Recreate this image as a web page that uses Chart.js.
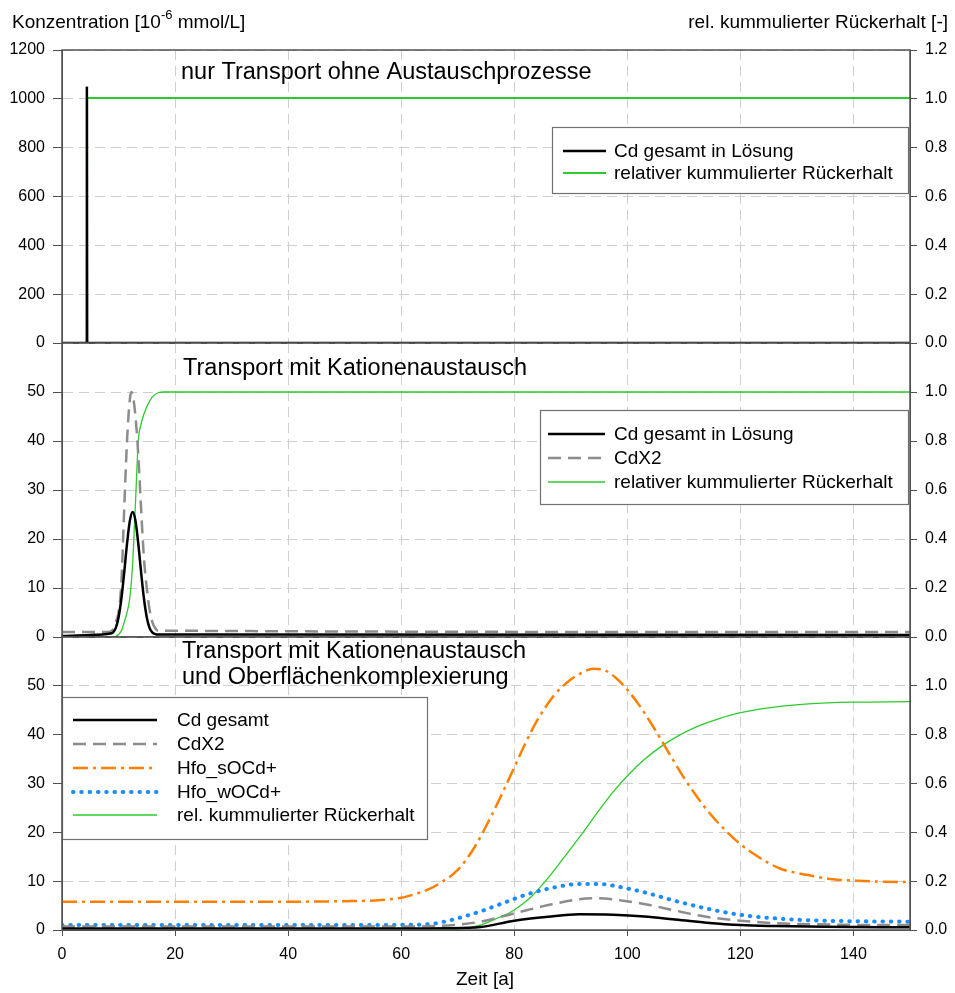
<!DOCTYPE html>
<html>
<head>
<meta charset="utf-8">
<script src="https://cdn.jsdelivr.net/npm/chart.js@4/dist/chart.umd.min.js"></script>
<style>
  body { margin: 0; background: #fff; }
  #wrap { position: relative; width: 955px; height: 993px; }
  #wrap canvas { position: absolute; left: 0; top: 0; }
</style>
</head>
<body>
<div id="wrap">
  <canvas id="c1" width="955" height="993"></canvas>
  <canvas id="c2" width="955" height="993"></canvas>
  <canvas id="c3" width="955" height="993"></canvas>
</div>
<script>
// --- Daten Panel 1: nur Transport ---
const zeit1Cd = [0, 4.35, 4.4, 4.45, 150];
const cd1 = [0, 0, 1050, 0, 0];
const zeit1Ret = [0, 4.4, 4.45, 150];
const ret1 = [0, 0, 1.003, 1.003];

// --- Daten Panel 2: Kationenaustausch ---
const zeit2Cd = [0, 5, 8, 8.5, 9, 9.5, 10, 10.5, 11, 11.5, 12, 12.5, 13, 13.5, 14, 14.5, 15, 15.5, 16, 16.5, 17, 20, 150];
const cd2 = [0.2, 0.4, 0.6, 0.7, 0.9, 1.8, 4, 7.8, 13.1, 19, 23.7, 25.5, 23.7, 19, 13.1, 7.8, 4, 1.8, 0.9, 0.6, 0.5, 0.5, 0.4];
const zeit2X2 = [0, 8, 9, 9.5, 10, 10.5, 11, 11.5, 12, 12.3, 13, 13.5, 14, 14.5, 15, 15.5, 16, 16.5, 17, 150];
const cdx2_2 = [1.0, 1.0, 1.5, 3, 5, 11, 26, 40, 48.5, 50, 45, 37, 26, 16, 10, 5.5, 3, 1.8, 1.3, 1.0];
const zeit2Ret = [0, 9, 10, 10.5, 11, 11.5, 12, 12.5, 13, 13.5, 14, 14.5, 15, 16, 17, 18, 150];
const ret2 = [0, 0, 0.01, 0.025, 0.06, 0.1, 0.16, 0.3, 0.55, 0.8, 0.87, 0.91, 0.94, 0.98, 0.997, 1.0, 1.0];

// --- Daten Panel 3: Kationenaustausch und Oberflaechenkomplexierung ---
const zeit3Cd = [0, 60, 68, 74, 80, 86, 91.5, 97.5, 103, 108, 114, 120, 126, 135, 150];
const cd3 = [0.3, 0.3, 0.35, 0.6, 1.9, 2.7, 3.2, 3.1, 2.75, 2.2, 1.5, 1.0, 0.8, 0.65, 0.55];
const zeit3X2 = [0, 60, 66, 70, 74, 80, 86, 91.5, 94.5, 100.5, 104, 108, 114, 120, 126, 132, 140, 150];
const cdx2_3 = [0.7, 0.7, 0.8, 1.1, 1.7, 3.4, 5.1, 6.3, 6.5, 5.8, 5.1, 4.1, 2.7, 1.9, 1.4, 1.2, 1.05, 1.0];
const zeit3S = [0, 40, 50, 56, 60, 62, 65, 67, 70, 73, 76, 78, 80, 82, 84, 87, 90, 92, 94, 96, 98, 100, 102, 104, 106, 108, 110, 112, 114, 117, 120, 123, 127, 131.7, 136.4, 140.6, 145, 150];
const sOCd = [5.8, 5.8, 5.9, 6.1, 6.6, 7.2, 8.4, 9.7, 12.3, 17, 23.5, 28.3, 33.3, 38.3, 42.8, 48, 51.3, 52.7, 53.5, 53.2, 51.6, 49.2, 46.2, 42.7, 38.9, 35, 31.2, 27.8, 24.7, 20.8, 17.6, 15.1, 12.6, 11.3, 10.4, 10.1, 9.9, 9.8];
const zeit3W = [0, 50, 56, 60, 65, 70, 74, 78, 82, 87, 91.5, 95, 100, 103.4, 108, 114, 120, 126, 132, 140, 150];
const wOCd = [1.0, 1.0, 1.0, 1.05, 1.2, 2.4, 3.8, 5.5, 7.2, 8.7, 9.4, 9.4, 8.5, 7.6, 6.1, 4.4, 3.1, 2.4, 2.0, 1.8, 1.7];
const zeit3Ret = [0, 65, 70, 74, 77, 80, 83, 85.7, 88.7, 91.6, 94.6, 97.5, 100.5, 103, 106, 109, 112, 116, 120, 126, 132, 140, 150];
const ret3 = [0, 0, 0.003, 0.02, 0.048, 0.082, 0.136, 0.205, 0.294, 0.382, 0.478, 0.566, 0.643, 0.698, 0.752, 0.795, 0.83, 0.864, 0.89, 0.913, 0.926, 0.933, 0.935];

const FONT = '"Liberation Sans", Arial, sans-serif';
Chart.defaults.font.family = FONT;
Chart.defaults.font.size = 16;
Chart.defaults.color = '#000';

const BLACK = '#000000';
const GRAY = '#8c8c8c';
const ORANGE = '#ff8000';
const BLUE = '#1a8cff';
const GREEN = '#2ccc2c';

function pts(xs, ys) {
  return xs.map((x, i) => ({ x: x, y: ys[i] }));
}

// Rahmen, Titel und Legende je Panel
const panelPlugin = {
  id: 'panel',
  afterDraw(chart, args, opts) {
    const { ctx, chartArea: a } = chart;
    ctx.save();
    // Legende
    const lg = opts.legend;
    ctx.fillStyle = '#fff';
    ctx.fillRect(lg.x, lg.y, lg.w, lg.h);
    ctx.strokeStyle = '#707070';
    ctx.lineWidth = 1.2;
    ctx.strokeRect(lg.x + 0.5, lg.y + 0.5, lg.w, lg.h);
    chart.data.datasets.forEach((ds, i) => {
      const yy = lg.rows[i];
      ctx.beginPath();
      ctx.setLineDash(ds.borderDash || []);
      ctx.lineCap = ds.borderCapStyle || 'butt';
      ctx.strokeStyle = ds.borderColor;
      ctx.lineWidth = ds.borderWidth;
      ctx.moveTo(lg.x1, yy);
      ctx.lineTo(lg.x2, yy);
      ctx.stroke();
      ctx.setLineDash([]);
      ctx.fillStyle = '#000';
      ctx.font = '19px ' + FONT;
      ctx.textBaseline = 'middle';
      ctx.textAlign = 'left';
      ctx.fillText(ds.label, lg.tx, yy + 1);
    });
    // Rahmen
    ctx.strokeStyle = '#505050';
    ctx.lineWidth = 1.5;
    ctx.strokeRect(a.left, a.top, a.right - a.left, a.bottom - a.top);
    // Titel
    ctx.fillStyle = '#000';
    ctx.font = '23.5px ' + FONT;
    ctx.textBaseline = 'alphabetic';
    ctx.textAlign = 'left';
    opts.titles.forEach(t => ctx.fillText(t.text, t.x, t.y));
    if (opts.extra) opts.extra(ctx);
    ctx.restore();
  }
};

function makeChart(id, datasets, cfg) {
  const yTick = (v) => (v > cfg.yMaxLabel ? '' : v);
  const y2Tick = (v) => (v > cfg.y2MaxLabel + 0.01 ? '' : v.toFixed(1));
  return new Chart(document.getElementById(id), {
    type: 'line',
    data: { datasets: datasets },
    options: {
      responsive: false,
      animation: false,
      layout: { padding: { top: cfg.top, bottom: cfg.bottom, left: 0, right: 0 } },
      elements: { point: { radius: 0 }, line: { cubicInterpolationMode: cfg.mono ? 'monotone' : 'default', tension: 0 } },
      plugins: {
        legend: { display: false },
        tooltip: { enabled: false },
        panel: { legend: cfg.legend, titles: cfg.titles, extra: cfg.extra }
      },
      scales: {
        x: {
          type: 'linear',
          min: 0,
          max: 150,
          ticks: { stepSize: 20, includeBounds: false, display: cfg.showX, padding: 9, maxRotation: 0 },
          grid: { color: '#cfcfcf', lineWidth: 1, drawTicks: cfg.showX, tickLength: 6, tickColor: '#505050', tickBorderDash: [] },
          border: { dash: [10, 6], color: '#505050' },
          afterFit: (s) => { s.height = cfg.showX ? 63 : 0; }
        },
        y: {
          position: 'left',
          min: 0,
          max: cfg.yMax,
          ticks: { stepSize: cfg.yStep, padding: 8, callback: yTick },
          grid: { color: '#cfcfcf', tickLength: 9, tickColor: '#505050', tickBorderDash: [] },
          border: { dash: [10, 6], color: '#505050' },
          afterFit: (s) => { s.width = 62; }
        },
        y2: {
          position: 'right',
          min: 0,
          max: 1.2,
          ticks: { stepSize: 0.2, padding: 8, callback: y2Tick },
          grid: { drawOnChartArea: false, tickLength: 7, tickColor: '#505050' },
          border: { color: '#505050' },
          afterFit: (s) => { s.width = 45; }
        }
      }
    },
    plugins: [panelPlugin]
  });
}

// Panel 1
makeChart('c1', [
  { label: 'Cd gesamt in Lösung', data: pts(zeit1Cd, cd1), borderColor: BLACK, borderWidth: 2.5, yAxisID: 'y' },
  { label: 'relativer kummulierter Rückerhalt', data: pts(zeit1Ret, ret1), borderColor: GREEN, borderWidth: 2, yAxisID: 'y2' }
], {
  top: 50, bottom: 650, showX: false, mono: false,
  yMax: 1200, yStep: 200, yMaxLabel: 1200, y2MaxLabel: 1.2,
  legend: { x: 552, y: 127, w: 356, h: 66, rows: [151, 173], x1: 563, x2: 606, tx: 614 },
  titles: [{ text: 'nur Transport ohne Austauschprozesse', x: 181, y: 79 }],
  extra: (ctx) => {
    ctx.font = '19px ' + FONT;
    const a = 'Konzentration [10';
    ctx.fillText(a, 12, 28);
    let w = ctx.measureText(a).width;
    ctx.font = '13px ' + FONT;
    ctx.fillText('-6', 12 + w, 19);
    w += ctx.measureText('-6').width;
    ctx.font = '19px ' + FONT;
    ctx.fillText(' mmol/L]', 12 + w, 28);
    ctx.textAlign = 'right';
    ctx.fillText('rel. kummulierter Rückerhalt [-]', 948, 28);
  }
});

// Panel 2
makeChart('c2', [
  { label: 'Cd gesamt in Lösung', data: pts(zeit2Cd, cd2), borderColor: BLACK, borderWidth: 2.5, yAxisID: 'y' },
  { label: 'CdX2', data: pts(zeit2X2, cdx2_2), borderColor: GRAY, borderWidth: 2.5, borderDash: [13, 7], yAxisID: 'y' },
  { label: 'relativer kummulierter Rückerhalt', data: pts(zeit2Ret, ret2), borderColor: GREEN, borderWidth: 1.3, yAxisID: 'y2' }
], {
  top: 343, bottom: 356, showX: false, mono: true,
  yMax: 60, yStep: 10, yMaxLabel: 50, y2MaxLabel: 1.0,
  legend: { x: 540, y: 410, w: 368, h: 94, rows: [434, 458, 482], x1: 548, x2: 605, tx: 614 },
  titles: [{ text: 'Transport mit Kationenaustausch', x: 183, y: 375 }]
});

// Panel 3
makeChart('c3', [
  { label: 'Cd gesamt', data: pts(zeit3Cd, cd3), borderColor: BLACK, borderWidth: 2.5, yAxisID: 'y' },
  { label: 'CdX2', data: pts(zeit3X2, cdx2_3), borderColor: GRAY, borderWidth: 2.5, borderDash: [13, 7], yAxisID: 'y' },
  { label: 'Hfo_sOCd+', data: pts(zeit3S, sOCd), borderColor: ORANGE, borderWidth: 2.5, borderDash: [15, 5, 3, 5], yAxisID: 'y' },
  { label: 'Hfo_wOCd+', data: pts(zeit3W, wOCd), borderColor: BLUE, borderWidth: 4, borderDash: [0.5, 7.8], borderCapStyle: 'round', yAxisID: 'y' },
  { label: 'rel. kummulierter Rückerhalt', data: pts(zeit3Ret, ret3), borderColor: GREEN, borderWidth: 1.3, yAxisID: 'y2' }
], {
  top: 637, bottom: 0, showX: true, mono: true,
  yMax: 60, yStep: 10, yMaxLabel: 50, y2MaxLabel: 1.0,
  legend: { x: 62, y: 697, w: 365, h: 142, rows: [720, 744, 768, 792, 815], x1: 73, x2: 157, tx: 177 },
  titles: [
    { text: 'Transport mit Kationenaustausch', x: 182, y: 658 },
    { text: 'und Oberflächenkomplexierung', x: 182, y: 684 }
  ],
  extra: (ctx) => {
    ctx.font = '19px ' + FONT;
    ctx.textAlign = 'center';
    ctx.fillText('Zeit [a]', 485, 985);
  }
});
</script>
</body>
</html>
